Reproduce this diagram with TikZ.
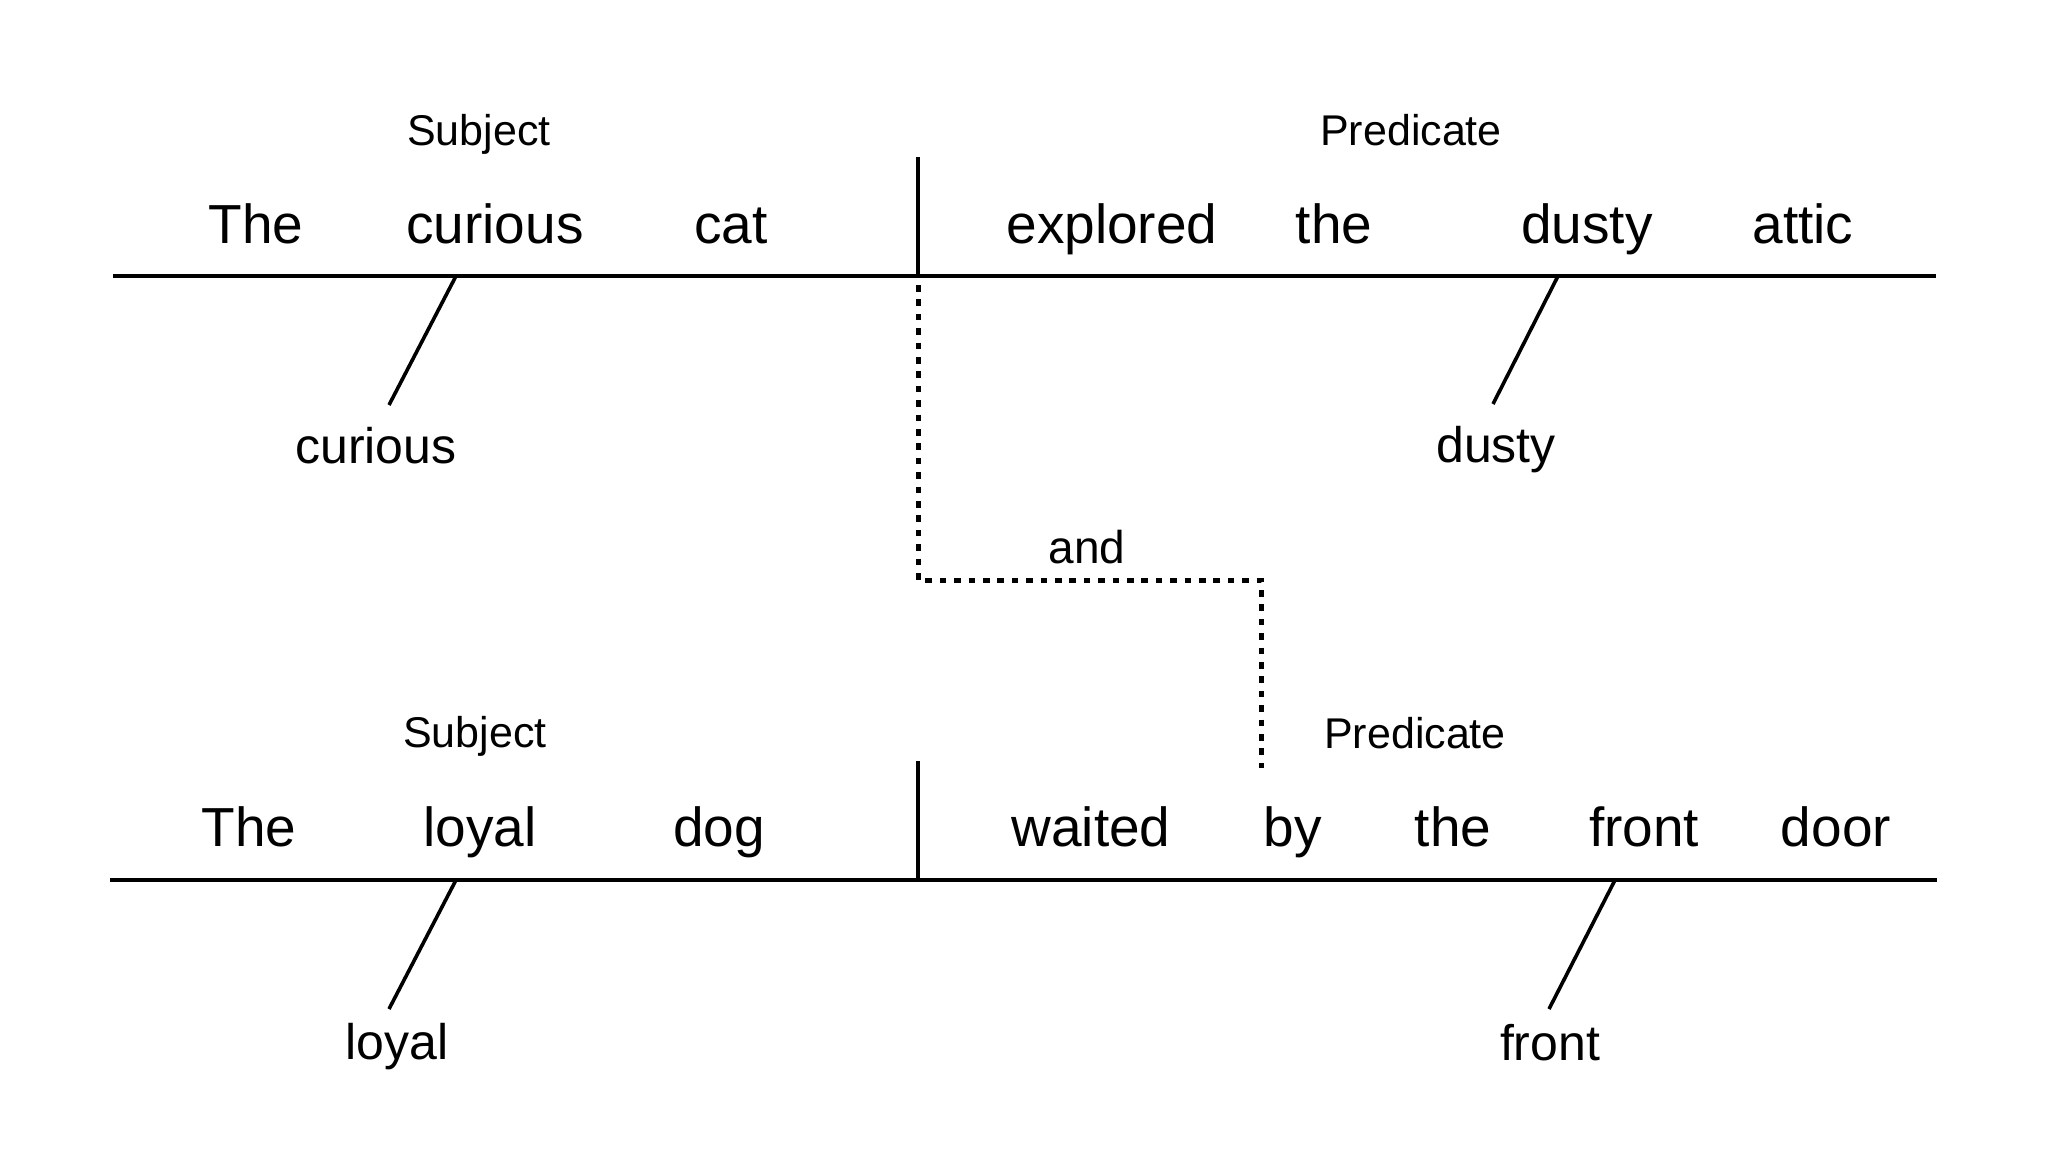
\documentclass[tikz,border=0pt]{standalone}
\usepackage{fontspec}
\setmainfont{Liberation Sans}
\begin{document}
\begin{tikzpicture}[x=0.5pt,y=-0.5pt,
  word/.style={anchor=base,inner sep=0pt,font=\fontsize{27.5}{32}\selectfont},
  role/.style={anchor=base,inner sep=0pt,font=\fontsize{21.5}{26}\selectfont},
  modword/.style={anchor=base,inner sep=0pt,font=\fontsize{25}{30}\selectfont},
  conj/.style={anchor=base,inner sep=0pt,font=\fontsize{23}{28}\selectfont},
  baseln/.style={line width=2pt},
  divln/.style={line width=2pt},
  modln/.style={line width=1.8pt},
  dotln/.style={line width=2.5pt,dash pattern=on 3.3pt off 3.9pt}]
\fill[white] (0,0) rectangle (2048,1152);
\useasboundingbox (0,0) rectangle (2048,1152);

% ---------- top clause ----------
\node[role] (subj1) at (479,145) {Subject};
\node[role] (pred1) at (1411,145) {Predicate};
\node[word] (the1) at (256,243) {The};
\node[word] (curious1) at (495,243) {curious};
\node[word] (cat1) at (731,243) {cat};
\node[word] (explored1) at (1112,243) {explored};
\node[word] (the2) at (1334,243) {the};
\node[word] (dusty1) at (1587,243) {dusty};
\node[word] (attic1) at (1803,243) {attic};
\node[modword] (curmod) at (376,463) {curious};
\node[modword] (dustmod) at (1496,462) {dusty};

\coordinate (L1a) at (113,276);
\coordinate (L1b) at (1936,276);
\coordinate (D1a) at (918,157);
\coordinate (D1b) at (918,276);
\coordinate (S1a) at (456,276);
\coordinate (S1b) at (389,405);
\coordinate (S2a) at (1558,276);
\coordinate (S2b) at (1493,404);

\draw[baseln] (L1a) -- (L1b);
\draw[divln] (D1a) -- (D1b);
\draw[modln] (S1a) -- (S1b);
\draw[modln] (S2a) -- (S2b);

% ---------- conjunction ----------
\node[conj] (and) at (1087,563) {and};
\coordinate (C1) at (918,285);
\coordinate (C2) at (1261,580);
\coordinate (C3) at (1261,768);
\draw[dotln] (C1) |- (C2) -- (C3);

% ---------- bottom clause ----------
\node[role] (subj2) at (475,747) {Subject};
\node[role] (pred2) at (1415,748) {Predicate};
\node[word] (the3) at (249,846) {The};
\node[word] (loyal1) at (480,846) {loyal};
\node[word] (dog1) at (719,846) {dog};
\node[word] (waited1) at (1091,846) {waited};
\node[word] (by1) at (1293,846) {by};
\node[word] (the4) at (1453,846) {the};
\node[word] (front1) at (1644,846) {front};
\node[word] (door1) at (1836,846) {door};
\node[modword] (loymod) at (397,1059) {loyal};
\node[modword] (frontmod) at (1550,1060) {front};

\coordinate (L2a) at (110,880);
\coordinate (L2b) at (1937,880);
\coordinate (D2a) at (918,761);
\coordinate (D2b) at (918,880);
\coordinate (S3a) at (456,880);
\coordinate (S3b) at (389,1009);
\coordinate (S4a) at (1615,880);
\coordinate (S4b) at (1549,1009);

\draw[baseln] (L2a) -- (L2b);
\draw[divln] (D2a) -- (D2b);
\draw[modln] (S3a) -- (S3b);
\draw[modln] (S4a) -- (S4b);
\end{tikzpicture}
\end{document}
